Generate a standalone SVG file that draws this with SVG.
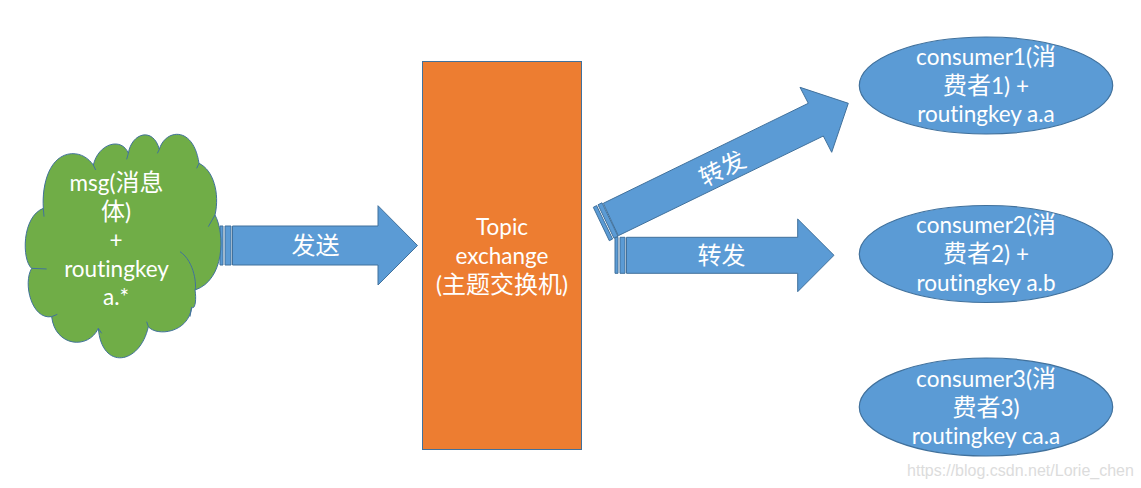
<svg xmlns="http://www.w3.org/2000/svg" width="1141" height="488" viewBox="0 0 1141 488">
<style>
text{font-family:"Lato","Noto Sans CJK SC",sans-serif;font-size:22.500px;fill:#fff;text-anchor:middle;font-variant-ligatures:none}
.cjk{font-family:"Noto Sans CJK SC",sans-serif;font-size:24px}
.c{font-family:"Noto Sans CJK SC",sans-serif;font-size:24px}
.ar{fill:#5B9BD5;stroke:#41719C;stroke-width:1}
.el{fill:#5B9BD5;stroke:#41719C;stroke-width:1.2}
</style>
<rect width="1141" height="488" fill="#fff"/>
<g id="connectors">
<g id="arrow-send">
<path class="ar" d="M220 226h3v39h-3zM225 226h6v39h-6z"/>
<path class="ar" d="M232.500 226H378V205.700L417.500 245.500L378 285V265H232.500Z"/>
<text class="cjk" x="315.500" y="254">发送</text>
</g>
<g id="arrow-forward-1">
<path class="ar" d="M593.300 207.300L596.600 205.600L612.600 239L609.300 240.700ZM598 204.800L602 202.800L618 236.300L614 238.300Z"/>
<path class="ar" d="M603.300 203.300L808.300 103.300L800 87.300L848.300 103.300L831.700 152.300L823.300 136L618.300 235.700Z"/>
<text class="cjk" transform="translate(722.500 169) rotate(-27)" x="0" y="8">转发</text>
</g>
<g id="arrow-forward-2">
<path class="ar" d="M615 237.300h3v36h-3zM620 237.300h5v36h-5z"/>
<path class="ar" d="M626.500 237.300H797.700V219L834 255.300L797.700 291.700V273.300H626.500Z"/>
<text class="cjk" x="721.500" y="264">转发</text>
</g>
</g>
<g id="node-msg">
<path transform="translate(0 120) scale(.33333)" fill="#70AD47" stroke="#41719C" stroke-width="3" d="M130 265C125 190 150 105 215 101C245 100 265 115 280 135C295 70 365 50 385 100C395 38 460 20 478 88C495 28 580 15 597 130C640 150 660 220 645 285C675 340 675 480 585 510C590 540 585 570 575 562C565 640 470 650 445 620C420 735 305 752 295 625C265 690 165 680 155 590C95 600 68 490 95 445C65 420 65 290 130 265Z"/>
<path transform="translate(0 120) scale(.33333)" fill="none" stroke="#41719C" stroke-width="3" d="M540 395C585 425 590 500 585 510M645 285L625 320M130 265L132 290M95 445L140 447M155 590L172 583M440 605L445 620M295 625L305 640M575 562L570 590M597 130L590 145M478 88L472 100M385 100L380 118M280 135L287 150"/>
<text x="116.500" y="191">msg(<tspan class="c">消息</tspan></text>
<text x="116" y="220"><tspan class="c">体</tspan>)</text>
<text x="116" y="248">+</text>
<text x="116.500" y="277">routingkey</text>
<text x="116" y="305">a.*</text>
</g>
<g id="node-exchange">
<rect x="422.500" y="61.500" width="159" height="388" fill="#ED7D31" stroke="#41719C" stroke-width="1"/>
<text x="502" y="235">Topic</text>
<text x="502" y="264">exchange</text>
<text x="502" y="293">(<tspan class="c">主题交换机</tspan>)</text>
</g>
<g id="node-consumer1">
<ellipse class="el" cx="986" cy="85.500" rx="126.700" ry="48.500"/>
<text x="986" y="65">consumer1(<tspan class="c">消</tspan></text>
<text x="986" y="94"><tspan class="c">费者</tspan>1) +</text>
<text x="986" y="122">routingkey a.a</text>
</g>
<g id="node-consumer2">
<ellipse class="el" cx="986" cy="254" rx="126.700" ry="48.500"/>
<text x="986" y="233">consumer2(<tspan class="c">消</tspan></text>
<text x="986" y="262"><tspan class="c">费者</tspan>2) +</text>
<text x="986" y="291">routingkey a.b</text>
</g>
<g id="node-consumer3">
<ellipse class="el" cx="986" cy="407" rx="126.700" ry="49"/>
<text x="986" y="387">consumer3(<tspan class="c">消</tspan></text>
<text x="986" y="416"><tspan class="c">费者</tspan>3)</text>
<text x="986" y="444">routingkey ca.a</text>
</g>
<text x="1020.500" y="476" style="font-family:'Liberation Sans',sans-serif;font-size:16px;fill:#dcdcdc">https://blog.csdn.net/Lorie_chen</text>
</svg>
